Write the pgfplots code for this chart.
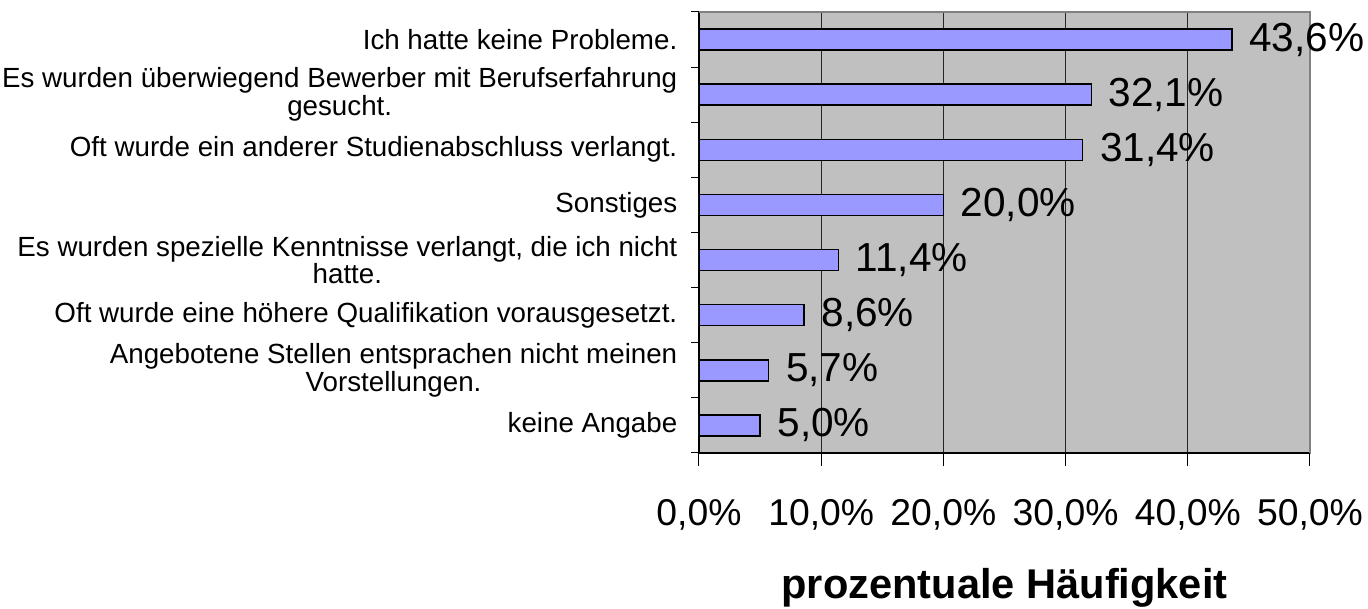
\documentclass[border=0pt]{standalone}
\usepackage{fontspec}
\setmainfont{Liberation Sans}
\usepackage{pgfplots}
\pgfplotsset{compat=1.18}
\definecolor{plotbg}{HTML}{C0C0C0}
\definecolor{plotborder}{HTML}{808080}
\definecolor{barfill}{HTML}{9999FF}
\begin{document}
\begin{tikzpicture}
\path[use as bounding box] (0,0) rectangle (1026pt,456.75pt);
\begin{axis}[
  at={(524.25pt,117pt)}, anchor=south west,
  scale only axis, width=458.25pt, height=330.75pt,
  xbar, bar width=15.75pt,
  xmin=0, xmax=50, ymin=-0.5, ymax=7.5,
  axis background/.style={fill=plotbg, draw=plotborder, line width=1pt},
  axis x line*=bottom, axis y line*=left,
  axis line style={black, line width=1pt, -},
  tick align=outside,
  major tick length=9.75pt,
  minor tick length=6pt,
  xtick={0,10,...,50},
  ytick={0,...,7},
  minor ytick={-0.5,0.5,...,7.5},
  major y tick style={draw=none},
  minor y tick style={black, line width=0.75pt},
  major x tick style={black, line width=0.75pt},
  xmajorgrids, major x grid style={black!85, line width=0.75pt},
  /pgf/number format/assume math mode=true,
  xticklabel={\pgfmathprintnumber[fixed,fixed zerofill,precision=1,use comma]{\tick}\%},
  xticklabel style={font=\fontsize{28}{28}\selectfont, anchor=north, inner sep=0pt, yshift=-25pt},
  yticklabels={keine Angabe, {Angebotene Stellen entsprachen nicht meinen\\Vorstellungen.}, Oft wurde eine höhere Qualifikation vorausgesetzt., {Es wurden spezielle Kenntnisse verlangt, die ich nicht\\hatte.}, Sonstiges, Oft wurde ein anderer Studienabschluss verlangt., {Es wurden überwiegend Bewerber mit Berufserfahrung\\gesucht.}, Ich hatte keine Probleme.},
  yticklabel style={font=\fontsize{20.8}{20.8}\selectfont, align=center, anchor=east, xshift=-3pt},
  xlabel={prozentuale Häufigkeit},
  xlabel style={font=\bfseries\fontsize{31.2}{31.2}\selectfont, at={(axis description cs:0.5,0)}, anchor=base, inner sep=0pt, yshift=-109.5pt},
  point meta=x,
  nodes near coords={\pgfmathprintnumber[fixed,fixed zerofill,precision=1,use comma]{\pgfplotspointmeta}\%},
  nodes near coords style={anchor=west, inner sep=0pt, xshift=12.5pt, font=\fontsize{30.4}{30.4}\selectfont, text=black},
]
\addplot[fill=barfill, draw=black, line width=1.1pt] coordinates {(5.0,0) (5.7,1) (8.6,2) (11.4,3) (20.0,4) (31.4,5) (32.1,6) (43.6,7)};
\draw[plotborder, line width=1pt] (rel axis cs:0,1) -- (rel axis cs:1,1) -- (rel axis cs:1,0);
\end{axis}
\end{tikzpicture}
\end{document}
